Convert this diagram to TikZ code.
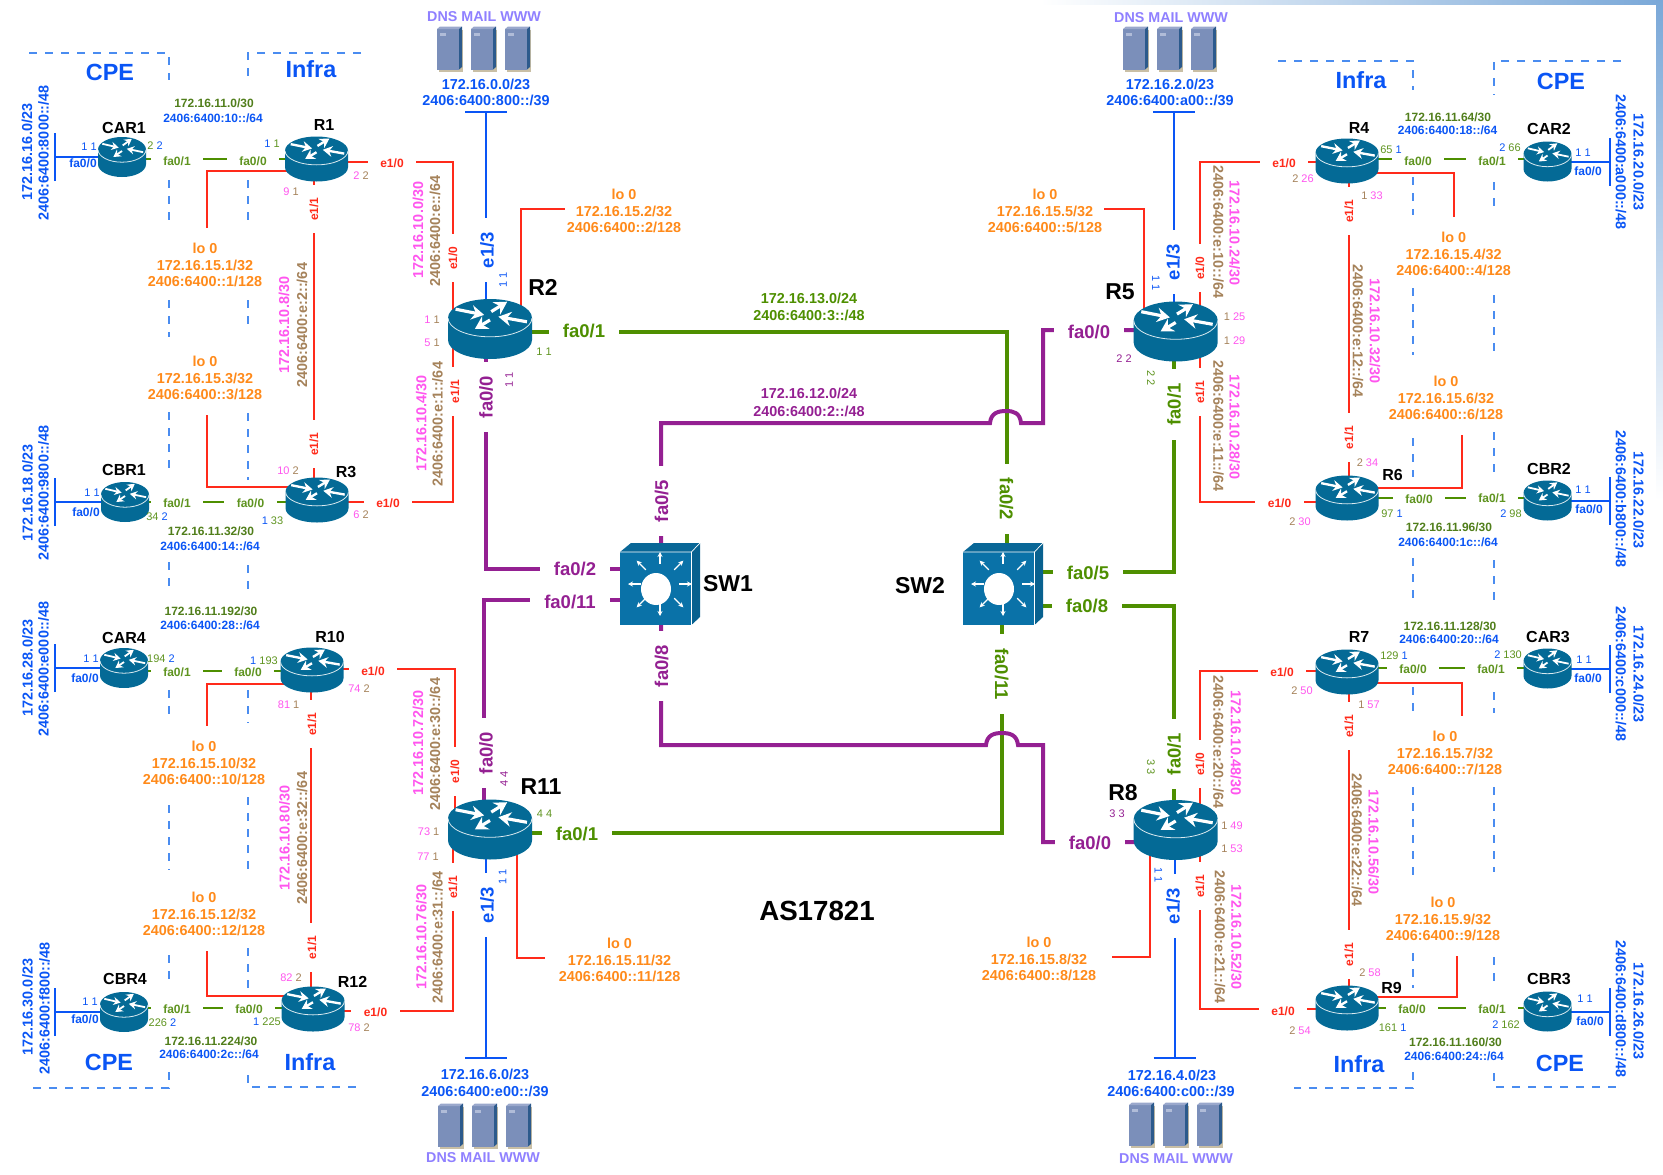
\documentclass[tikz,border=0pt]{standalone}
\usepackage{fontspec}
\setmainfont{Liberation Sans}
\usetikzlibrary{arrows.meta,backgrounds}

\definecolor{netblue}{HTML}{0A55F5}
\definecolor{zoneline}{HTML}{4A8CF0}
\definecolor{linkred}{HTML}{FF2A1A}
\definecolor{linkgreen}{HTML}{4E8F00}
\definecolor{lightgreen}{HTML}{5F9420}
\definecolor{linkpurple}{HTML}{942092}
\definecolor{addrpink}{HTML}{FF55EE}
\definecolor{addrbrown}{HTML}{A5825A}
\definecolor{addrorange}{HTML}{FF8A1A}
\definecolor{servtext}{HTML}{8F80FF}
\definecolor{routerteal}{HTML}{046A96}
\definecolor{switchteal}{HTML}{0A72A8}
\definecolor{stripblue}{HTML}{7AA8D8}

\newcommand{\routershape}[2]{%
  \begin{scope}[shift={(path picture bounding box.center)},x=#1pt,y=#2pt]
    \pgfmathsetmacro\arrowline{#1*.075}
    \pgfmathsetmacro\arrowlen{#1*.3}
    \pgfmathsetmacro\arrowwid{#1*.34}
    \fill[routerteal] (-1,.37) arc[start angle=180,end angle=0,x radius=1,y radius=.63] -- (1,-.37) arc[start angle=0,end angle=-180,x radius=1,y radius=.63] -- cycle;
    \draw[white!85!routerteal,line width=.8pt] (-1,.37) arc[start angle=180,end angle=360,x radius=1,y radius=.63];
    \draw[white,line width=\arrowline pt,-{Stealth[length=\arrowlen pt,width=\arrowwid pt]}] (-.82,.66) -- (-.14,.47);
    \draw[white,line width=\arrowline pt,-{Stealth[length=\arrowlen pt,width=\arrowwid pt]}] (.03,.58) -- (.41,.91);
    \draw[white,line width=\arrowline pt,-{Stealth[length=\arrowlen pt,width=\arrowwid pt]}] (.88,.24) -- (.2,.41);
    \draw[white,line width=\arrowline pt,-{Stealth[length=\arrowlen pt,width=\arrowwid pt]}] (0,.3) -- (-.36,0);
  \end{scope}}

\newcommand{\switchshape}{%
  \begin{scope}[shift={(path picture bounding box.center)},x=1pt,y=1pt]
    \fill[switchteal!90!black] (-40,32) -- (-29,41) -- (40,41) -- (31.4,32) -- cycle;
    \fill[switchteal!85!black] (31.4,32) -- (40,41) -- (40,-33) -- (31.4,-41) -- cycle;
    \fill[switchteal] (-40,-41) rectangle (31.4,32);
    \draw[white,line width=.7pt] (-40,32) -- (31.4,32) -- (31.4,-41) (31.4,32) -- (40,41);
    \fill[white] (-4,-5) ellipse[x radius=15,y radius=16];
    \begin{scope}[shift={(-4,-5)},white,line width=1.1pt,-{Stealth[length=5pt,width=5pt]}]
      \draw (0:19) -- (0:32);
      \draw (45:20) -- (45:33);
      \draw (90:20) -- (90:32);
      \draw (135:20) -- (135:33);
      \draw (180:19) -- (180:32);
      \draw (225:20) -- (225:33);
      \draw (270:20) -- (270:32);
      \draw (315:20) -- (315:33);
    \end{scope}
  \end{scope}}

\newcommand{\servershape}{%
  \begin{scope}[shift={(path picture bounding box.center)},x=1pt,y=1pt]
    \fill[HTML=C9BFA5] (-11,-22.5) rectangle (13,19);
    \fill[HTML=7B8FBA] (-13,-20.5) rectangle (9,20);
    \fill[HTML=9AA8CC] (-13,20) -- (-10,22.5) -- (12,22.5) -- (9,20) -- cycle;
    \fill[HTML=2C5A8C] (9,20) -- (12,22.5) -- (12,-18) -- (9,-20.5) -- cycle;
    \fill[HTML=B0BCD8] (-10,16) rectangle (-4,13);
  \end{scope}}

\tikzset{HTML/.code={\definecolor{tempfill}{HTML}{#1}\tikzset{color=tempfill}}}
\newcommand{\twotone}[4]{\textcolor{#1}{#2} \textcolor{#3}{#4}}

\begin{document}
\begin{tikzpicture}[x=1pt,y=-1pt,
  router/.style 2 args={rectangle,inner sep=0pt,minimum width=2*#1 pt,minimum height=2*#2 pt,path picture={\routershape{#1}{#2}}},
  routerbig/.style={router={42}{30}},
  routermid/.style={router={31.5}{22.5}},
  routersmall/.style={router={24}{20}},
  switchbox/.style={rectangle,inner sep=0pt,minimum width=80pt,minimum height=82pt,path picture={\switchshape}},
  serverbox/.style={rectangle,inner sep=0pt,minimum width=26pt,minimum height=45pt,path picture={\servershape}},
  redlink/.style={linkred,line width=2pt},
  greenlink/.style={linkgreen,line width=1.8pt},
  bluelink/.style={netblue,line width=2.4pt},
  stublink/.style={netblue,line width=2pt},
  fatgreen/.style={linkgreen,line width=4pt},
  fatpurple/.style={linkpurple,line width=4pt},
  zonedash/.style={zoneline,line width=1.4pt,dash pattern=on 8pt off 8pt},
  portred/.style={fill=white,text=linkred,inner xsep=12.5pt,inner ysep=1pt,font=\fontsize{12}{14}\selectfont\bfseries},
  portgreen/.style={fill=white,text=lightgreen,inner xsep=12.5pt,inner ysep=0pt,font=\fontsize{12}{14}\selectfont\bfseries},
  portblue/.style={text=netblue,font=\fontsize{12}{14}\selectfont\bfseries},
  portbig/.style={fill=white,text=#1,inner xsep=14pt,inner ysep=1pt,font=\fontsize{18.5}{20}\selectfont\bfseries},
  addrblue/.style={text=netblue,font=\fontsize{14.4}{16.5}\selectfont\bfseries},
  addrmag/.style={text=addrpink,font=\fontsize{14.4}{16.5}\selectfont\bfseries},
  addrtan/.style={text=addrbrown,font=\fontsize{14.4}{16.5}\selectfont\bfseries},
  loaddr/.style={text=addrorange,align=center,inner ysep=15pt,inner xsep=2pt,font=\fontsize{14.4}{16.5}\selectfont\bfseries},
  lanfour/.style={text=lightgreen!85!black,font=\fontsize{12}{14}\selectfont\bfseries},
  lansix/.style={text=netblue,font=\fontsize{12}{14}\selectfont\bfseries},
  coreaddr/.style={text=#1,align=center,font=\fontsize{14.4}{17.5}\selectfont\bfseries},
  zonename/.style={text=netblue,font=\fontsize{23.4}{25}\selectfont\bfseries},
  rname/.style={font=\fontsize{16}{18}\selectfont\bfseries},
  rnamebig/.style={font=\fontsize{23}{25}\selectfont\bfseries},
  servname/.style={text=servtext,font=\fontsize{14.3}{16}\selectfont\bfseries},
  num/.style={font=\fontsize{11}{13}\selectfont}]
  \tikzstyle{every node}=[inner sep=0pt]
  \useasboundingbox (0,0) rectangle (1663,1175);

  \node[portred] (R1e10) at (392,163) {e1/0};
  \node[portred,rotate=90] (R2e10) at (453,258) {e1/0};
  \node[portred,rotate=90] (R1e11) at (314,209) {e1/1};
  \node[portred,rotate=90] (R3e11) at (314,444) {e1/1};
  \node[portred] (R3e10) at (388,503) {e1/0};
  \node[portred,rotate=90] (R2e11) at (455,391.5) {e1/1};
  \node[portred] (R10e10) at (373,671) {e1/0};
  \node[portred,rotate=90] (R11e10) at (455,771.5) {e1/0};
  \node[portred,rotate=90] (R10e11) at (312,724) {e1/1};
  \node[portred,rotate=90] (R12e11) at (312,947.5) {e1/1};
  \node[portred] (R12e10) at (375.5,1012) {e1/0};
  \node[portred,rotate=90] (R11e11) at (453,887) {e1/1};
  \node[portred] (R4e10) at (1284,163) {e1/0};
  \node[portred,rotate=90] (R5e10) at (1200,268) {e1/0};
  \node[portred,rotate=90] (R4e11) at (1349,211) {e1/1};
  \node[portred,rotate=90] (R6e11) at (1349,437.5) {e1/1};
  \node[portred,rotate=90] (R5e11) at (1200,392) {e1/1};
  \node[portred] (R6e10) at (1279.5,503) {e1/0};
  \node[portred] (R7e10) at (1282,672) {e1/0};
  \node[portred,rotate=90] (R8e10) at (1200,764) {e1/0};
  \node[portred,rotate=90] (R7e11) at (1349,726) {e1/1};
  \node[portred,rotate=90] (R9e11) at (1349,954.5) {e1/1};
  \node[portred,rotate=90] (R8e11) at (1200,886) {e1/1};
  \node[portred] (R9e10) at (1283,1011) {e1/0};

  \node[portgreen] (CAR1f1) at (177,161) {fa0/1};
  \node[portgreen] (R1f0) at (253,161) {fa0/0};
  \node[portgreen] (CBR1f1) at (177,503) {fa0/1};
  \node[portgreen] (R3f0) at (250.5,503) {fa0/0};
  \node[portgreen] (CAR4f1) at (177,672) {fa0/1};
  \node[portgreen] (R10f0) at (248,672) {fa0/0};
  \node[portgreen] (CBR4f1) at (177,1009) {fa0/1};
  \node[portgreen] (R12f0) at (249,1009) {fa0/0};
  \node[portgreen] (R4f0) at (1418,161) {fa0/0};
  \node[portgreen] (CAR2f1) at (1492,161) {fa0/1};
  \node[portgreen] (R6f0) at (1419,499) {fa0/0};
  \node[portgreen] (CBR2f1) at (1492,498) {fa0/1};
  \node[portgreen] (R7f0) at (1413,669) {fa0/0};
  \node[portgreen] (CAR3f1) at (1491,669) {fa0/1};
  \node[portgreen] (R9f0) at (1412,1009) {fa0/0};
  \node[portgreen] (CBR3f1) at (1492,1009) {fa0/1};

  \node[portbig=linkgreen] (R2f1) at (584,331) {fa0/1};
  \node[portbig=linkgreen,rotate=-90] (SW2f2) at (1006.5,499) {fa0/2};
  \node[portbig=linkpurple,rotate=90] (SW1f5) at (661.5,501) {fa0/5};
  \node[portbig=linkpurple] (R5f0) at (1089,332) {fa0/0};
  \node[portbig=linkpurple,rotate=90] (R2f0) at (486,397) {fa0/0};
  \node[portbig=linkpurple] (SW1f2) at (575,569) {fa0/2};
  \node[portbig=linkpurple] (SW1f11) at (570,602) {fa0/11};
  \node[portbig=linkpurple,rotate=90] (R11f0) at (486,753) {fa0/0};
  \node[portbig=linkpurple,rotate=90] (SW1f8) at (661.5,666) {fa0/8};
  \node[portbig=linkpurple] (R8f0) at (1090,843) {fa0/0};
  \node[portbig=linkgreen,rotate=-90] (SW2f11) at (1001.6,674) {fa0/11};
  \node[portbig=linkgreen] (R11f1) at (577,834) {fa0/1};
  \node[portbig=linkgreen] (SW2f5) at (1088,573) {fa0/5};
  \node[portbig=linkgreen] (SW2f8) at (1087,606) {fa0/8};
  \node[portbig=linkgreen,rotate=90] (R5f1) at (1174,404.5) {fa0/1};
  \node[portbig=linkgreen,rotate=90] (R8f1) at (1174,754) {fa0/1};
  \node[portbig=netblue,rotate=90] (R2e13) at (487,250) {e1/3};
  \node[portbig=netblue,rotate=90] (R5e13) at (1173,262) {e1/3};
  \node[portbig=netblue,rotate=90] (R11e13) at (487,905) {e1/3};
  \node[portbig=netblue,rotate=90] (R8e13) at (1173,906) {e1/3};

  \node[loaddr] (lo1) at (205,265) {lo 0\\172.16.15.1/32\\2406:6400::1/128};
  \node[loaddr] (lo2) at (624,211) {lo 0\\172.16.15.2/32\\2406:6400::2/128};
  \node[loaddr] (lo3) at (205,378) {lo 0\\172.16.15.3/32\\2406:6400::3/128};
  \node[loaddr] (lo4) at (1453.7,254) {lo 0\\172.16.15.4/32\\2406:6400::4/128};
  \node[loaddr] (lo5) at (1045,211) {lo 0\\172.16.15.5/32\\2406:6400::5/128};
  \node[loaddr] (lo6) at (1446,398) {lo 0\\172.16.15.6/32\\2406:6400::6/128};
  \node[loaddr] (lo7) at (1445,753) {lo 0\\172.16.15.7/32\\2406:6400::7/128};
  \node[loaddr] (lo8) at (1039,959) {lo 0\\172.16.15.8/32\\2406:6400::8/128};
  \node[loaddr] (lo9) at (1443,919) {lo 0\\172.16.15.9/32\\2406:6400::9/128};
  \node[loaddr] (lo10) at (204,763) {lo 0\\172.16.15.10/32\\2406:6400::10/128};
  \node[loaddr] (lo11) at (619.6,960) {lo 0\\172.16.15.11/32\\2406:6400::11/128};
  \node[loaddr] (lo12) at (204,914) {lo 0\\172.16.15.12/32\\2406:6400::12/128};

  \node[routersmall] (CAR1) at (122,157) {};
  \node[routermid] (R1) at (316.5,159) {};
  \node[routerbig] (R2) at (490,329) {};
  \node[routersmall] (CBR1) at (125,502) {};
  \node[routermid] (R3) at (317,500) {};
  \node[routersmall] (CAR4) at (124,668) {};
  \node[routermid] (R10) at (312,670) {};
  \node[routerbig] (R11) at (490,829.5) {};
  \node[routersmall] (CBR4) at (124,1012) {};
  \node[routermid] (R12) at (313,1009) {};
  \node[routermid] (R4) at (1347,161) {};
  \node[routersmall] (CAR2) at (1547.5,161.5) {};
  \node[routerbig] (R5) at (1175.7,331.5) {};
  \node[routermid] (R6) at (1347,498) {};
  \node[routersmall] (CBR2) at (1547.5,500.5) {};
  \node[routermid] (R7) at (1347,672) {};
  \node[routersmall] (CAR3) at (1547.5,668.5) {};
  \node[routerbig] (R8) at (1175.7,830) {};
  \node[routermid] (R9) at (1347,1008) {};
  \node[routersmall] (CBR3) at (1547.5,1011.5) {};
  \node[switchbox] (SW1) at (660,584) {};
  \node[switchbox] (SW2) at (1003,584) {};

  \node[serverbox] (srvA) at (450,49) {};
  \node[serverbox] (srvB) at (484,49) {};
  \node[serverbox] (srvC) at (518,49) {};
  \node[serverbox] (srvD) at (1136,49) {};
  \node[serverbox] (srvE) at (1170,49) {};
  \node[serverbox] (srvF) at (1204,49) {};
  \node[serverbox] (srvG) at (451,1126) {};
  \node[serverbox] (srvH) at (485,1126) {};
  \node[serverbox] (srvI) at (519,1126) {};
  \node[serverbox] (srvJ) at (1142,1125) {};
  \node[serverbox] (srvK) at (1176,1125) {};
  \node[serverbox] (srvL) at (1210,1125) {};

  \coordinate (R2net) at (486,112);
  \coordinate (R5net) at (1174,112);
  \coordinate (R11net) at (486,1058);
  \coordinate (R8net) at (1174.7,1058);
  \coordinate (CAR1net) at (55,157);
  \coordinate (CBR1net) at (55,502);
  \coordinate (CAR4net) at (55,668);
  \coordinate (CBR4net) at (55,1012);
  \coordinate (CAR2net) at (1610,161.5);
  \coordinate (CBR2net) at (1610,500.5);
  \coordinate (CAR3net) at (1610,668.5);
  \coordinate (CBR3net) at (1610,1011.5);

  \begin{pgfonlayer}{background}
    \shade[left color=white,right color=stripblue] (1040,0) rectangle (1663,4);
    \shade[top color=stripblue,bottom color=white] (1656,0) rectangle (1663,500);

    \draw[zonedash] (29,53) -- (169,53) -- (169,80) (169,180) -- (169,225) (169,300) -- (169,337) (169,412) -- (169,475) (169,562) -- (169,587) (169,690) -- (169,720) (169,805) -- (169,870) (169,955) -- (169,985) (169,1072) -- (169,1088) -- (27,1088);
    \draw[zonedash] (361,53) -- (248,53) -- (248,80) (248,180) -- (248,225) (248,300) -- (248,330) (248,413) -- (248,480) (248,565) -- (248,590) (248,690) -- (248,723) (248,797) -- (248,875) (248,948) -- (248,988) (248,1075) -- (248,1087) -- (361,1087);
    \draw[zonedash] (1278,61) -- (1413,61) -- (1413,90) (1413,177) -- (1413,215) (1413,288) -- (1413,355) (1413,438) -- (1413,477) (1413,558) -- (1413,600) (1413,687) -- (1413,713) (1413,787) -- (1413,880) (1413,953) -- (1413,988) (1413,1072) -- (1413,1088) -- (1294,1088);
    \draw[zonedash] (1621,61) -- (1494,61) -- (1494,95) (1494,182) -- (1494,210) (1494,295) -- (1494,358) (1494,432) -- (1494,475) (1494,560) -- (1494,605) (1494,692) -- (1494,713) (1494,787) -- (1494,872) (1494,957) -- (1494,985) (1494,1073) -- (1494,1087) -- (1621,1087);

    \draw[redlink] ([yshift=-3pt]R1.center) -| ([xshift=-37pt]R2.center);
    \draw[redlink] ([xshift=-3pt]R1.center) -- ([xshift=-3.5pt]R3.center);
    \draw[redlink] ([xshift=-37pt]R2.center) |- ([yshift=-2pt]R3.center);
    \draw[redlink] ([yshift=1pt]R10.center) -| ([xshift=-35pt]R11.center);
    \draw[redlink] ([xshift=-1pt]R10.center) -- ([xshift=-2pt]R12.center);
    \draw[redlink] ([xshift=-37pt]R11.center) |- ([yshift=-2pt]R12.center);
    \draw[redlink] ([yshift=-1pt]R4.center) -| ([xshift=24.3pt]R5.center);
    \draw[redlink] ([xshift=2pt]R4.center) -- ([xshift=2pt]R6.center);
    \draw[redlink] ([xshift=24.3pt]R5.center) |- ([yshift=-4pt]R6.center);
    \draw[redlink] ([yshift=1pt]R7.center) -| ([xshift=24.3pt]R8.center);
    \draw[redlink] ([xshift=2pt]R7.center) -- ([xshift=2pt]R9.center);
    \draw[redlink] ([xshift=24.3pt]R8.center) |- ([yshift=-1pt]R9.center);

    \draw[redlink] ([yshift=-12pt]R1.center) -| ([xshift=1.5pt]lo1.north);
    \draw[redlink] ([yshift=13pt]R3.center) -| ([xshift=1.5pt]lo3.south);
    \draw[redlink] ([yshift=-14pt]R10.center) -| ([xshift=2.5pt]lo10.north);
    \draw[redlink] ([yshift=13pt]R12.center) -| ([xshift=2.5pt]lo12.south);
    \draw[redlink] ([yshift=-12pt]R4.center) -| (lo4.north);
    \draw[redlink] ([yshift=10pt]R6.center) -| ([xshift=15.6pt]lo6.south);
    \draw[redlink] ([yshift=-11pt]R7.center) -| ([xshift=16.6pt]lo7.north);
    \draw[redlink] ([yshift=11pt]R9.center) -| ([xshift=14pt]lo9.south);
    \draw[redlink] ([xshift=31pt]R2.center) |- ([yshift=2pt]lo2.west);
    \draw[redlink] ([xshift=-31.7pt]R5.center) |- ([yshift=2pt]lo5.east);
    \draw[redlink] ([xshift=27pt]R11.center) |- ([xshift=-12pt,yshift=2pt]lo11.west);
    \draw[redlink] ([xshift=-26pt]R8.center) |- ([xshift=14pt,yshift=2pt]lo8.east);

    \draw[greenlink] ([yshift=-2pt]CAR1.center) -- (R1.center);
    \draw[greenlink] (CBR1.center) -- ([yshift=-2pt]R3.center);
    \draw[greenlink] ([yshift=-3pt]CAR4.center) -- ([yshift=-1pt]R10.center);
    \draw[greenlink] ([yshift=4pt]CBR4.center) -- ([yshift=1pt]R12.center);
    \draw[greenlink] ([yshift=2pt]R4.center) -- ([yshift=2.5pt]CAR2.center);
    \draw[greenlink] (R6.center) -- ([yshift=2.5pt]CBR2.center);
    \draw[greenlink] ([yshift=4pt]R7.center) -- ([yshift=.5pt]CAR3.center);
    \draw[greenlink] (R9.center) -- ([yshift=3.5pt]CBR3.center);

    \draw[bluelink] ([xshift=-4pt]R2.center) -- (R2net);
    \draw[bluelink] ([xshift=-21pt]R2net) -- ([xshift=21pt]R2net);
    \draw[bluelink] ([xshift=-1.7pt]R5.center) -- (R5net);
    \draw[bluelink] ([xshift=-21pt]R5net) -- ([xshift=21pt]R5net);
    \draw[bluelink] ([xshift=-4pt]R11.center) -- (R11net);
    \draw[bluelink] ([xshift=-21pt]R11net) -- ([xshift=21pt]R11net);
    \draw[bluelink] ([xshift=-1pt]R8.center) -- (R8net);
    \draw[bluelink] ([xshift=-21pt]R8net) -- ([xshift=21pt]R8net);

    \draw[stublink] (CAR1.center) -- (CAR1net);
    \draw[stublink] ([yshift=-24pt]CAR1net) -- ([yshift=24pt]CAR1net);
    \draw[stublink] (CBR1.center) -- (CBR1net);
    \draw[stublink] ([yshift=-24pt]CBR1net) -- ([yshift=24pt]CBR1net);
    \draw[stublink] (CAR4.center) -- (CAR4net);
    \draw[stublink] ([yshift=-24pt]CAR4net) -- ([yshift=24pt]CAR4net);
    \draw[stublink] (CBR4.center) -- (CBR4net);
    \draw[stublink] ([yshift=-24pt]CBR4net) -- ([yshift=24pt]CBR4net);
    \draw[stublink] (CAR2.center) -- (CAR2net);
    \draw[stublink] ([yshift=-24pt]CAR2net) -- ([yshift=24pt]CAR2net);
    \draw[stublink] (CBR2.center) -- (CBR2net);
    \draw[stublink] ([yshift=-24pt]CBR2net) -- ([yshift=24pt]CBR2net);
    \draw[stublink] (CAR3.center) -- (CAR3net);
    \draw[stublink] ([yshift=-24pt]CAR3net) -- ([yshift=24pt]CAR3net);
    \draw[stublink] (CBR3.center) -- (CBR3net);
    \draw[stublink] ([yshift=-24pt]CBR3net) -- ([yshift=24pt]CBR3net);

    \draw[fatgreen] ([yshift=-3pt]R2.center) -| ([xshift=3.5pt]SW2.center);
    \draw[fatgreen] ([xshift=-1.4pt]SW2.center) |- ([yshift=-3.5pt]R11.center);
    \draw[fatgreen] ([yshift=12pt]SW2.center) -| ([xshift=-1.7pt]R5.center);
    \draw[fatgreen] ([yshift=-22pt]SW2.center) -| ([xshift=-1.7pt]R8.center);
    \draw[fatpurple] ([xshift=-4pt]R2.center) |- ([yshift=15pt]SW1.center);
    \draw[fatpurple] ([xshift=-6pt]R11.center) |- ([yshift=-16pt]SW1.center);
    \draw[fatpurple] ([xshift=1pt]SW1.center) |- (990,423) .. controls (991,413) and (998,411) .. (1006,411) .. controls (1014,411) and (1020,413) .. (1021,423) -- (1043,423) |- ([yshift=1.5pt]R5.center);
    \draw[fatpurple] ([xshift=1pt]SW1.center) |- (986,745) .. controls (987,735) and (994,733) .. (1002,733) .. controls (1010,733) and (1017,735) .. (1018,745) -- (1043,745) |- ([yshift=-12pt]R8.center);
  \end{pgfonlayer}

  \node[addrblue] (t1) at (486,84) {172.16.0.0/23};
  \node[addrblue] (t2) at (486,100) {2406:6400:800::/39};
  \node[addrblue] (t3) at (1170,84) {172.16.2.0/23};
  \node[addrblue] (t4) at (1170,100) {2406:6400:a00::/39};
  \node[addrblue] (t5) at (485,1074) {172.16.6.0/23};
  \node[addrblue] (t6) at (485,1091) {2406:6400:e00::/39};
  \node[addrblue] (t7) at (1172,1075) {172.16.4.0/23};
  \node[addrblue] (t8) at (1171,1091) {2406:6400:c00::/39};
  \node[servname] (t9) at (484,17) {DNS MAIL WWW};
  \node[servname] (t10) at (1171,18) {DNS MAIL WWW};
  \node[servname] (t11) at (483,1158) {DNS MAIL WWW};
  \node[servname] (t12) at (1176,1159) {DNS MAIL WWW};

  \node[addrblue,rotate=90] (t13) at (27,152) {172.16.16.0/23};
  \node[addrblue,rotate=90] (t14) at (43.5,153) {2406:6400:8000::/48};
  \node[addrblue,rotate=90] (t15) at (27.5,493) {172.16.18.0/23};
  \node[addrblue,rotate=90] (t16) at (43.6,493) {2406:6400:9800::/48};
  \node[addrblue,rotate=90] (t17) at (27.5,668) {172.16.28.0/23};
  \node[addrblue,rotate=90] (t18) at (43.6,669) {2406:6400:e000::/48};
  \node[addrblue,rotate=90] (t19) at (27.5,1007) {172.16.30.0/23};
  \node[addrblue,rotate=90] (t20) at (44.6,1008) {2406:6400:f800::/48};
  \node[addrblue,rotate=-90] (t21) at (1621,162) {2406:6400:a000::/48};
  \node[addrblue,rotate=-90] (t22) at (1638.6,162) {172.16.20.0/23};
  \node[addrblue,rotate=-90] (t23) at (1621,499) {2406:6400:b800::/48};
  \node[addrblue,rotate=-90] (t24) at (1638.6,500) {172.16.22.0/23};
  \node[addrblue,rotate=-90] (t25) at (1621,674) {2406:6400:c000::/48};
  \node[addrblue,rotate=-90] (t26) at (1638.6,674) {172.16.24.0/23};
  \node[addrblue,rotate=-90] (t27) at (1621,1009) {2406:6400:d800::/48};
  \node[addrblue,rotate=-90] (t28) at (1638.6,1011) {172.16.26.0/23};

  \node[addrmag,rotate=90] (a1) at (418,230) {172.16.10.0/30};
  \node[addrtan,rotate=90] (a2) at (435,231) {2406:6400:e::/64};
  \node[addrmag,rotate=90] (a3) at (284,325) {172.16.10.8/30};
  \node[addrtan,rotate=90] (a4) at (302,325) {2406:6400:e:2::/64};
  \node[addrmag,rotate=90] (a5) at (421.4,423.5) {172.16.10.4/30};
  \node[addrtan,rotate=90] (a6) at (437.5,424) {2406:6400:e:1::/64};
  \node[addrmag,rotate=90] (a7) at (418,743) {172.16.10.72/30};
  \node[addrtan,rotate=90] (a8) at (435,744) {2406:6400:e:30::/64};
  \node[addrmag,rotate=90] (a9) at (284.6,838) {172.16.10.80/30};
  \node[addrtan,rotate=90] (a10) at (302,838) {2406:6400:e:32::/64};
  \node[addrmag,rotate=90] (a11) at (421.4,937) {172.16.10.76/30};
  \node[addrtan,rotate=90] (a12) at (437.5,937.5) {2406:6400:e:31::/64};
  \node[addrtan,rotate=-90] (a13) at (1218.5,232) {2406:6400:e:10::/64};
  \node[addrmag,rotate=-90] (a14) at (1234.6,233) {172.16.10.24/30};
  \node[addrtan,rotate=-90] (a15) at (1358,331) {2406:6400:e:12::/64};
  \node[addrmag,rotate=-90] (a16) at (1375,331) {172.16.10.32/30};
  \node[addrtan,rotate=-90] (a17) at (1218.5,426) {2406:6400:e:11::/64};
  \node[addrmag,rotate=-90] (a18) at (1234.6,427) {172.16.10.28/30};
  \node[addrtan,rotate=-90] (a19) at (1218.5,742) {2406:6400:e:20::/64};
  \node[addrmag,rotate=-90] (a20) at (1236,743) {172.16.10.48/30};
  \node[addrtan,rotate=-90] (a21) at (1357,840) {2406:6400:e:22::/64};
  \node[addrmag,rotate=-90] (a22) at (1373.6,842) {172.16.10.56/30};
  \node[addrtan,rotate=-90] (a23) at (1220,937) {2406:6400:e:21::/64};
  \node[addrmag,rotate=-90] (a24) at (1236.4,937) {172.16.10.52/30};

  \node[lanfour] (b1) at (214,103) {172.16.11.0/30};
  \node[lansix] (b2) at (213,118) {2406:6400:10::/64};
  \node[lanfour] (b3) at (211,531) {172.16.11.32/30};
  \node[lansix] (b4) at (210,546) {2406:6400:14::/64};
  \node[lanfour] (b5) at (211,611) {172.16.11.192/30};
  \node[lansix] (b6) at (210,625) {2406:6400:28::/64};
  \node[lanfour] (b7) at (211,1041) {172.16.11.224/30};
  \node[lansix] (b8) at (209,1054) {2406:6400:2c::/64};
  \node[lanfour] (b9) at (1448,117) {172.16.11.64/30};
  \node[lansix] (b10) at (1447.6,130) {2406:6400:18::/64};
  \node[lanfour] (b11) at (1449,527) {172.16.11.96/30};
  \node[lansix] (b12) at (1448,542) {2406:6400:1c::/64};
  \node[lanfour] (b13) at (1450,626) {172.16.11.128/30};
  \node[lansix] (b14) at (1449,639) {2406:6400:20::/64};
  \node[lanfour] (b15) at (1455.5,1042) {172.16.11.160/30};
  \node[lansix] (b16) at (1454,1056) {2406:6400:24::/64};

  \node[coreaddr=linkgreen] (c1) at (809,307) {172.16.13.0/24\\2406:6400:3::/48};
  \node[coreaddr=linkpurple] (c2) at (809,402.5) {172.16.12.0/24\\2406:6400:2::/48};

  \node[portblue] (d1) at (83,163) {fa0/0};
  \node[portblue] (d2) at (86,512) {fa0/0};
  \node[portblue] (d3) at (85,678) {fa0/0};
  \node[portblue] (d4) at (85,1019) {fa0/0};
  \node[portblue] (d5) at (1588,171) {fa0/0};
  \node[portblue] (d6) at (1589,509) {fa0/0};
  \node[portblue] (d7) at (1588,678) {fa0/0};
  \node[portblue] (d8) at (1590,1021) {fa0/0};

  \node[zonename] (z1) at (110,72) {CPE};
  \node[zonename] (z2) at (311,69) {Infra};
  \node[zonename] (z3) at (1361,80) {Infra};
  \node[zonename] (z4) at (1561,81) {CPE};
  \node[zonename] (z5) at (109,1062) {CPE};
  \node[zonename] (z6) at (310,1062) {Infra};
  \node[zonename] (z7) at (1359,1064) {Infra};
  \node[zonename] (z8) at (1560,1063) {CPE};

  \node[rname] (nCAR1) at (124,128) {CAR1};
  \node[rname] (nR1) at (324,125) {R1};
  \node[rname] (nCBR1) at (124,470) {CBR1};
  \node[rname] (nR3) at (346,472) {R3};
  \node[rname] (nCAR4) at (124,638) {CAR4};
  \node[rname] (nR10) at (330,637) {R10};
  \node[rname] (nCBR4) at (125,979) {CBR4};
  \node[rname] (nR12) at (352.5,982) {R12};
  \node[rname] (nR4) at (1359,128) {R4};
  \node[rname] (nCAR2) at (1549,129) {CAR2};
  \node[rname] (nR6) at (1392.6,475) {R6};
  \node[rname] (nCBR2) at (1549,469) {CBR2};
  \node[rname] (nR7) at (1359,637) {R7};
  \node[rname] (nCAR3) at (1548,637) {CAR3};
  \node[rname] (nR9) at (1391.6,988) {R9};
  \node[rname] (nCBR3) at (1549,979) {CBR3};
  \node[rnamebig] (nR2) at (543,287) {R2};
  \node[rnamebig] (nR5) at (1120,292) {R5};
  \node[rnamebig] (nR8) at (1123,793) {R8};
  \node[rnamebig] (nR11) at (541,787) {R11};
  \node[rnamebig] (nSW1) at (728,584) {SW1};
  \node[rnamebig] (nSW2) at (920,586) {SW2};
  \node[font=\fontsize{27.7}{30}\selectfont\bfseries] (asname) at (817,911) {AS17821};

  \node[num] (m1) at (89,147) {\twotone{netblue}{1}{netblue}{1}};
  \node[num] (m2) at (155,146) {\twotone{lightgreen}{2}{netblue}{2}};
  \node[num] (m3) at (272,144) {\twotone{netblue}{1}{lightgreen}{1}};
  \node[num] (m4) at (361,176) {\twotone{addrpink}{2}{addrbrown}{2}};
  \node[num] (m5) at (291,192) {\twotone{addrpink}{9}{addrbrown}{1}};
  \node[num] (m6) at (432,320) {\twotone{addrpink}{1}{addrbrown}{1}};
  \node[num] (m7) at (432,343) {\twotone{addrpink}{5}{addrbrown}{1}};
  \node[num] (m8) at (544,352) {\twotone{lightgreen}{1}{lightgreen}{1}};
  \node[num,rotate=90,text=linkpurple] (m9) at (509,380) {1 1};
  \node[num,rotate=90,text=netblue] (m10) at (503,280) {1 1};
  \node[num] (m11) at (92,493) {\twotone{netblue}{1}{netblue}{1}};
  \node[num] (m12) at (157,517) {\twotone{lightgreen}{34}{netblue}{2}};
  \node[num] (m13) at (288,471) {\twotone{addrpink}{10}{addrbrown}{2}};
  \node[num] (m14) at (272.5,521) {\twotone{netblue}{1}{lightgreen}{33}};
  \node[num] (m15) at (361,515) {\twotone{addrpink}{6}{addrbrown}{2}};
  \node[num] (m16) at (91,659) {\twotone{netblue}{1}{netblue}{1}};
  \node[num] (m17) at (161,659) {\twotone{lightgreen}{194}{netblue}{2}};
  \node[num] (m18) at (264,661) {\twotone{netblue}{1}{lightgreen}{193}};
  \node[num] (m19) at (359,689) {\twotone{addrpink}{74}{addrbrown}{2}};
  \node[num] (m20) at (288.6,705) {\twotone{addrpink}{81}{addrbrown}{1}};
  \node[num] (m21) at (90,1002) {\twotone{netblue}{1}{netblue}{1}};
  \node[num] (m22) at (162.5,1023) {\twotone{lightgreen}{226}{netblue}{2}};
  \node[num] (m23) at (291,978) {\twotone{addrpink}{82}{addrbrown}{2}};
  \node[num] (m24) at (267,1022) {\twotone{netblue}{1}{lightgreen}{225}};
  \node[num] (m25) at (359,1028) {\twotone{addrpink}{78}{addrbrown}{2}};
  \node[num] (m26) at (428.6,832) {\twotone{addrpink}{73}{addrbrown}{1}};
  \node[num] (m27) at (428,857) {\twotone{addrpink}{77}{addrbrown}{1}};
  \node[num] (m28) at (544.5,814) {\twotone{lightgreen}{4}{lightgreen}{4}};
  \node[num,rotate=90,text=linkpurple] (m29) at (504,779) {4 4};
  \node[num,rotate=90,text=netblue] (m30) at (502.5,877) {1 1};
  \node[num] (m31) at (1391,150) {\twotone{lightgreen}{65}{netblue}{1}};
  \node[num] (m32) at (1303,179) {\twotone{addrbrown}{2}{addrpink}{26}};
  \node[num] (m33) at (1372,196) {\twotone{addrbrown}{1}{addrpink}{33}};
  \node[num] (m34) at (1510,148) {\twotone{netblue}{2}{lightgreen}{66}};
  \node[num] (m35) at (1583,153) {\twotone{netblue}{1}{netblue}{1}};
  \node[num] (m36) at (1234.6,317) {\twotone{addrbrown}{1}{addrpink}{25}};
  \node[num] (m37) at (1234.6,341) {\twotone{addrbrown}{1}{addrpink}{29}};
  \node[num,text=linkpurple] (m38) at (1124,359) {2 2};
  \node[num,rotate=-90,text=lightgreen] (m39) at (1151,378) {2 2};
  \node[num,rotate=-90,text=netblue] (m40) at (1156,283) {1 1};
  \node[num] (m41) at (1367.5,463) {\twotone{addrbrown}{2}{addrpink}{34}};
  \node[num] (m42) at (1300,522) {\twotone{addrbrown}{2}{addrpink}{30}};
  \node[num] (m43) at (1392,514) {\twotone{lightgreen}{97}{netblue}{1}};
  \node[num] (m44) at (1511,514) {\twotone{netblue}{2}{lightgreen}{98}};
  \node[num] (m45) at (1583,490) {\twotone{netblue}{1}{netblue}{1}};
  \node[num] (m46) at (1394,656) {\twotone{lightgreen}{129}{netblue}{1}};
  \node[num] (m47) at (1302,691) {\twotone{addrbrown}{2}{addrpink}{50}};
  \node[num] (m48) at (1369,705) {\twotone{addrbrown}{1}{addrpink}{57}};
  \node[num] (m49) at (1508,655) {\twotone{netblue}{2}{lightgreen}{130}};
  \node[num] (m50) at (1584,660) {\twotone{netblue}{1}{netblue}{1}};
  \node[num] (m51) at (1232,826) {\twotone{addrbrown}{1}{addrpink}{49}};
  \node[num] (m52) at (1232,849) {\twotone{addrbrown}{1}{addrpink}{53}};
  \node[num,text=linkpurple] (m53) at (1117,814) {3 3};
  \node[num,rotate=-90,text=lightgreen] (m54) at (1151,767) {3 3};
  \node[num,rotate=-90,text=netblue] (m55) at (1158.5,875) {1 1};
  \node[num] (m56) at (1370,973) {\twotone{addrbrown}{2}{addrpink}{58}};
  \node[num] (m57) at (1300,1031) {\twotone{addrbrown}{2}{addrpink}{54}};
  \node[num] (m58) at (1392.6,1028) {\twotone{lightgreen}{161}{netblue}{1}};
  \node[num] (m59) at (1506,1025) {\twotone{netblue}{2}{lightgreen}{162}};
  \node[num] (m60) at (1585,999) {\twotone{netblue}{1}{netblue}{1}};
\end{tikzpicture}
\end{document}
